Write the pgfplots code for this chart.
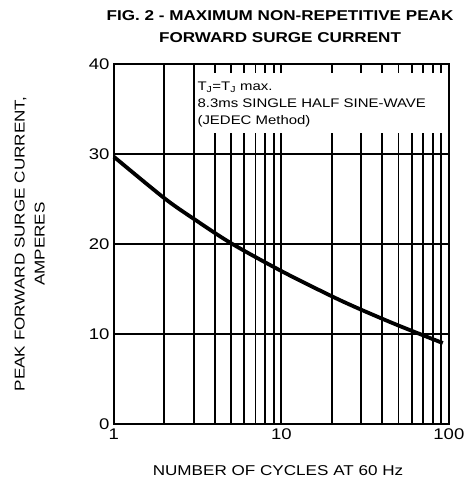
\documentclass[border=0pt]{standalone}
\usepackage{pgfplots}
\pgfplotsset{compat=1.18}
\usepackage{fontspec}
\setmainfont{Liberation Sans}[FakeStretch=1.2]
\begin{document}
\begin{tikzpicture}
\begin{axis}[
  xmode=log, xmin=1, xmax=100, ymin=0, ymax=40,
  scale only axis, width=335bp, height=360bp,
  xtick={1,10,100}, xticklabels={1,10,100},
  ytick={0,10,20,30,40},
  /pgf/number format/assume math mode=true,
  tick label style={font=\fontsize{15.5}{16}\selectfont, black},
  xticklabel style={yshift=-1bp},
  yticklabel style={xshift=-1bp},
  grid=both,
  major grid style={black, line width=1.8bp},
  minor grid style={black, line width=1.8bp},
  axis line style={black, line width=2bp},
  tick style={draw=none},
  clip=false,
]
\addplot[black, line width=3.8bp, smooth] coordinates {
(1,29.7) (2,25.1) (3,22.8) (5,20.1) (10,17.0) (20,14.2) (30,12.7)
(50,10.95) (92,9.0)
};
\fill[white] (axis cs:3.05,32.3) rectangle (axis cs:98.5,39.0);
\node[anchor=north west, align=left, font=\fontsize{12.5}{17}\selectfont, inner sep=0pt]
  at (axis cs:3.15,38.0) {T\textsubscript{J}=T\textsubscript{J} max.\\8.3ms SINGLE HALF SINE-WAVE\\(JEDEC Method)};
\node[align=center, font=\fontsize{14.3}{22}\selectfont\bfseries] at (rel axis cs:0.496,1.103)
  {FIG. 2 - MAXIMUM NON-REPETITIVE PEAK\\FORWARD SURGE CURRENT};
\node[font=\fontsize{14.3}{17}\selectfont] at (rel axis cs:0.49,-0.128) {NUMBER OF CYCLES AT 60 Hz};
\node[align=center, rotate=90, font=\fontsize{14.3}{20}\selectfont] at (rel axis cs:-0.251,0.5)
  {PEAK FORWARD SURGE CURRENT,\\AMPERES};
\path (rel axis cs:-0.340,-0.161) rectangle (rel axis cs:1.0746,1.178);
\end{axis}
\end{tikzpicture}
\end{document}
